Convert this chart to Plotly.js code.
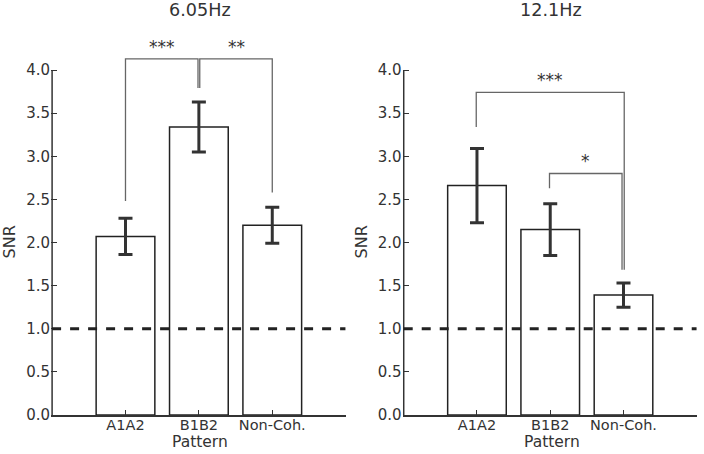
<!DOCTYPE html>
<html>
<head>
<meta charset="utf-8">
<script src="https://cdn.plot.ly/plotly-3.0.1.min.js"></script>
<style>
  html, body { margin: 0; padding: 0; background: #fff; }
  #chart { width: 704px; height: 454px; }
</style>
</head>
<body>
<div id="chart"></div>
<script>
// Pattern categories shared by both panels
const categories = ['A1A2', 'B1B2', 'Non-Coh.'];

// SNR at 6.05 Hz (mean and error)
const snr605 = [2.07, 3.34, 2.20];
const err605 = [0.21, 0.29, 0.21];

// SNR at 12.1 Hz (mean and error)
const snr121 = [2.66, 2.15, 1.39];
const err121 = [0.43, 0.30, 0.14];

// Significance comparisons per panel
const sigPairs605 = [['A1A2', 'B1B2'], ['B1B2', 'Non-Coh.']];
const sigLabels605 = ['***', '**'];
const sigPairs121 = [['A1A2', 'Non-Coh.'], ['B1B2', 'Non-Coh.']];
const sigLabels121 = ['***', '*'];

const panelTitles = ['6.05Hz', '12.1Hz'];
const chanceLevel = 1.0;

// ---- styling / geometry ----
const FONT = 'DejaVu Sans, sans-serif';
const TXT = '#333';
const TICK_SIZE = 14.5;
const xPos = categories.map((c, i) => i + 1);
const posOf = c => categories.indexOf(c) + 1;

// bracket shapes: top level, leg clearance above each error bar, small x nudges
const bracketGeom = [
  [ {top: 4.13, gapA: 0.20, gapB: 0.16, dxA: 0, dxB: -0.012},
    {top: 4.13, gapA: 0.16, gapB: 0.17, dxA: 0.012, dxB: 0} ],
  [ {top: 3.74, gapA: 0.25, gapB: 0.155, dxA: -0.01, dxB: 0.01},
    {top: 2.80, gapA: 0.18, gapB: 0.155, dxA: -0.01, dxB: -0.02} ]
];

const panels = [
  {vals: snr605, errs: err605, pairs: sigPairs605, labels: sigLabels605, xa: 'x', ya: 'y', xd: [0.07244, 0.4910]},
  {vals: snr121, errs: err121, pairs: sigPairs121, labels: sigLabels121, xa: 'x2', ya: 'y2', xd: [0.5719, 0.9897]}
];

const Y_TOP = 4.4;
const yDomain = [0.0859, 0.9218];

const traces = [];
const shapes = [];
const annotations = [];
const layout = {
  width: 704, height: 454,
  margin: {l: 0, r: 0, t: 0, b: 0},
  paper_bgcolor: '#fff', plot_bgcolor: 'rgba(0,0,0,0)',
  showlegend: false,
  font: {family: FONT, size: 14, color: TXT},
  shapes: shapes,
  annotations: annotations
};

panels.forEach((p, k) => {
  traces.push({
    type: 'bar',
    x: xPos, y: p.vals,
    xaxis: p.xa, yaxis: p.ya,
    width: 0.8,
    marker: {color: '#fff', line: {color: '#222', width: 1.5}},
    error_y: {type: 'data', array: p.errs, visible: true, thickness: 3, width: 7, color: '#333'},
    hoverinfo: 'skip'
  });

  const xName = k === 0 ? 'xaxis' : 'xaxis2';
  const yName = k === 0 ? 'yaxis' : 'yaxis2';
  layout[xName] = {
    domain: p.xd, range: [-0.015, 4], anchor: p.ya,
    showgrid: false, zeroline: false,
    showline: true, linecolor: '#333', linewidth: 1.5,
    ticks: 'inside', ticklen: 5, tickwidth: 1, tickcolor: '#333',
    tickvals: xPos, ticktext: categories,
    ticklabelstandoff: -4,
    tickfont: {family: FONT, size: TICK_SIZE, color: TXT}
  };
  layout[yName] = {
    domain: yDomain, range: [0, Y_TOP], anchor: p.xa,
    showgrid: false, zeroline: false, showline: false,
    ticks: 'inside', ticklen: 6, tickwidth: 1, tickcolor: '#333',
    tick0: 0, dtick: 0.5, tickformat: '.1f',
    tickfont: {family: FONT, size: 15, color: TXT}
  };

  // left spine, ending at the 4.0 tick
  shapes.push({type: 'line', xref: p.xa, yref: p.ya, x0: 0, x1: 0, y0: 0, y1: 4,
               line: {color: '#333', width: 1.5}});

  // chance level
  shapes.push({type: 'line', xref: p.xa, yref: p.ya, x0: 0, x1: 4, y0: chanceLevel, y1: chanceLevel,
               line: {color: '#222', width: 3, dash: '9px,9px'}});

  // significance brackets
  p.pairs.forEach((pair, j) => {
    const g = bracketGeom[k][j];
    const ia = posOf(pair[0]) - 1, ib = posOf(pair[1]) - 1;
    const xa = posOf(pair[0]) + g.dxA, xb = posOf(pair[1]) + g.dxB;
    const ya = p.vals[ia] + p.errs[ia] + g.gapA;
    const yb = p.vals[ib] + p.errs[ib] + g.gapB;
    shapes.push({type: 'path', xref: p.xa, yref: p.ya,
                 path: `M${xa},${ya} L${xa},${g.top} L${xb},${g.top} L${xb},${yb}`,
                 line: {color: '#666', width: 1.3}});
    annotations.push({xref: p.xa, yref: p.ya, x: (xa + xb) / 2, y: g.top + 0.14,
                      text: p.labels[j], showarrow: false, xanchor: 'center', yanchor: 'middle',
                      font: {family: FONT, size: 17, color: TXT}});
  });

  // panel title
  annotations.push({xref: p.xa, yref: 'paper', x: 2.01, y: 0.977, text: panelTitles[k],
                    showarrow: false, xanchor: 'center', yanchor: 'middle',
                    font: {family: FONT, size: 17.6, color: TXT}});
  // axis titles
  annotations.push({xref: p.xa, yref: 'paper', x: 2.02, y: 0.002, text: 'Pattern',
                    showarrow: false, xanchor: 'center', yanchor: 'bottom',
                    font: {family: FONT, size: 15.5, color: TXT}});
  annotations.push({xref: 'paper', yref: 'paper', x: (k === 0 ? 9 : 361) / 704, y: 0.4659, text: 'SNR',
                    textangle: -90, showarrow: false, xanchor: 'center', yanchor: 'middle',
                    font: {family: FONT, size: 16, color: TXT}});
});

Plotly.newPlot('chart', traces, layout, {staticPlot: true, displayModeBar: false});
</script>
</body>
</html>
